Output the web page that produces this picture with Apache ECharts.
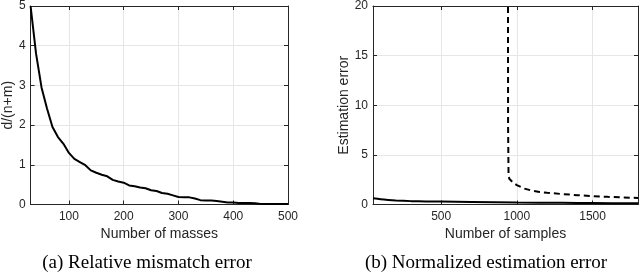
<!DOCTYPE html>
<html><head><meta charset="utf-8">
<script src="https://cdn.jsdelivr.net/npm/echarts@6/dist/echarts.min.js"></script>
<style>html,body{margin:0;padding:0;background:#fff}#c{width:640px;height:274px}</style>
</head><body><div id="c"></div>
<script>
// Panel (a): relative mismatch error
const massesX = [30,40,50,60,70,80,90,100,110,120,130,140,150,160,170,180,190,200,210,220,230,240,250,260,270,280,290,300,310,320,330,340,350,360,370,380,390,400,410,420,430,440,450,460,470,480,490,500];
const mismatchY = [5.0,3.8,2.95,2.42,1.95,1.7,1.53,1.3,1.15,1.07,0.99,0.86,0.8,0.75,0.71,0.62,0.58,0.55,0.48,0.46,0.43,0.41,0.36,0.34,0.29,0.27,0.23,0.19,0.18,0.18,0.15,0.11,0.1,0.1,0.09,0.07,0.05,0.05,0.04,0.04,0.04,0.03,0.01,0.01,0.01,0.01,0.01,0.01];
const leftXTicks = [100,200,300,400,500];

// Panel (b): normalized estimation error
const solidX = [50,100,150,200,300,400,500,700,1000,1300,1500,1800];
const solidY = [0.62,0.52,0.45,0.4,0.34,0.31,0.29,0.25,0.2,0.17,0.15,0.12];
const dashedX = [938,940,942,945,950,975,1000,1050,1100,1150,1200,1300,1400,1500,1600,1700,1800];
const dashedY = [300,60,8,3.0,2.6,2.2,1.95,1.6,1.4,1.27,1.18,1.05,0.94,0.84,0.77,0.71,0.66];
const rightXTicks = [500,1000,1500];

const axisColor = '#262626';
const gridColor = '#e6e6e6';
const sans = '"Liberation Sans", Arial, sans-serif';

function zip(xs, ys){ return xs.map((x,i)=>[x, ys[i]]); }
const plain = v => String(v);

function xAx(gi, min, max, ticks, pos, name){
  const main = pos === 'bottom';
  return {
    type:'value', gridIndex:gi, min:min, max:max, position:pos,
    axisLine:{show:true, onZero:false, lineStyle:{color:axisColor, width:1}},
    axisTick:{show:true, inside:true, length:4, customValues:ticks, lineStyle:{color:axisColor}},
    axisLabel:{show:main, customValues:ticks, formatter:plain, color:axisColor, fontSize:12, fontFamily:sans, margin:6},
    splitLine:{show:main, lineStyle:{color:gridColor, width:1}},
    name: main ? name : '', nameLocation:'middle', nameGap:21,
    nameTextStyle:{color:axisColor, fontSize:14, fontFamily:sans}
  };
}
function yAx(gi, max, interval, pos, name, gap){
  const main = pos === 'left';
  return {
    type:'value', gridIndex:gi, min:0, max:max, interval:interval, position:pos,
    axisLine:{show:true, onZero:false, lineStyle:{color:axisColor, width:1}},
    axisTick:{show:true, inside:true, length:4, lineStyle:{color:axisColor}},
    axisLabel:{show:main, formatter:plain, color:axisColor, fontSize:12, fontFamily:sans, margin:5},
    splitLine:{show:main, lineStyle:{color:gridColor, width:1}},
    name: main ? name : '', nameLocation:'middle', nameGap:gap,
    nameTextStyle:{color:axisColor, fontSize:14, fontFamily:sans}
  };
}

const chart = echarts.init(document.getElementById('c'), null, {renderer:'canvas'});
chart.setOption({
  animation:false,
  backgroundColor:'#fff',
  grid:[
    {left:25, top:3, width:263, height:201.5},
    {left:373, top:3, width:265, height:201.5}
  ],
  xAxis:[
    xAx(0, 30, 500, leftXTicks, 'bottom', 'Number of masses'),
    xAx(0, 30, 500, leftXTicks, 'top', ''),
    xAx(1, 50, 1800, rightXTicks, 'bottom', 'Number of samples'),
    xAx(1, 50, 1800, rightXTicks, 'top', '')
  ],
  yAxis:[
    yAx(0, 5, 1, 'left', 'd/(n+m)', 15),
    yAx(0, 5, 1, 'right', '', 0),
    yAx(1, 20, 5, 'left', 'Estimation error', 19),
    yAx(1, 20, 5, 'right', '', 0)
  ],
  series:[
    {type:'line', xAxisIndex:0, yAxisIndex:0, data:zip(massesX, mismatchY), showSymbol:false, symbol:'none',
     lineStyle:{color:'#000', width:2}, clip:true},
    {type:'line', xAxisIndex:2, yAxisIndex:2, data:zip(solidX, solidY), showSymbol:false, symbol:'none', smooth:0.3,
     lineStyle:{color:'#000', width:2}, clip:true},
    {type:'line', xAxisIndex:2, yAxisIndex:2, data:zip(dashedX, dashedY), showSymbol:false, symbol:'none',
     lineStyle:{color:'#000', width:2, type:[6,4]}, clip:true}
  ],
  graphic:[
    {type:'text', x:147, y:263, style:{text:'(a) Relative mismatch error', font:'19px "Liberation Serif", "Times New Roman", serif', fill:'#000', textAlign:'center', textVerticalAlign:'middle'}},
    {type:'text', x:486, y:263, style:{text:'(b) Normalized estimation error', font:'19px "Liberation Serif", "Times New Roman", serif', fill:'#000', textAlign:'center', textVerticalAlign:'middle'}}
  ]
});
</script></body></html>
